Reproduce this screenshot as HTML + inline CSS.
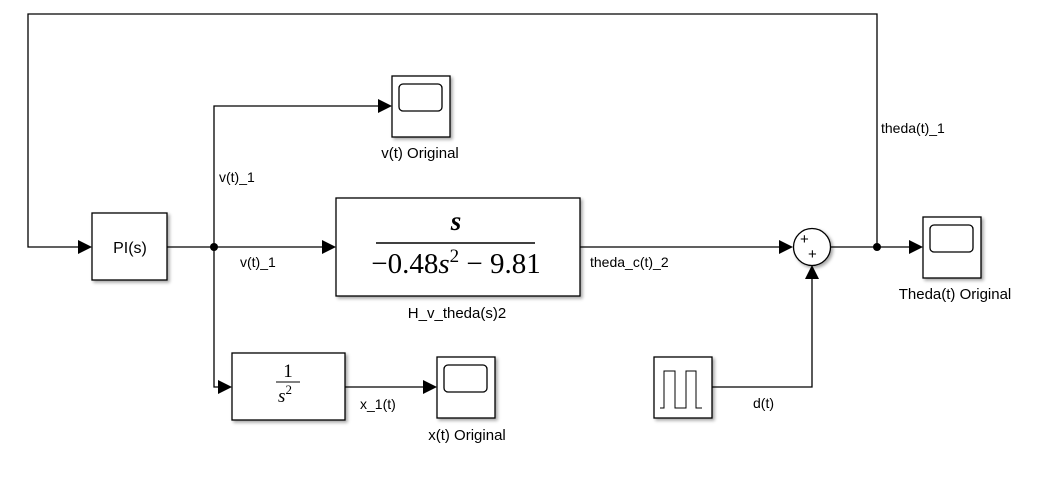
<!DOCTYPE html>
<html><head><meta charset="utf-8"><style>
html,body{margin:0;padding:0;background:#fff;}
svg{display:block;}
text{font-family:"Liberation Sans",Arial,sans-serif;font-size:14px;fill:#000;}
</style></head><body>
<svg width="1047" height="483" viewBox="0 0 1047 483" xmlns="http://www.w3.org/2000/svg">
<defs>
<filter id="sh" x="-10%" y="-10%" width="130%" height="130%"><feDropShadow dx="2" dy="2" stdDeviation="1.5" flood-color="#000" flood-opacity="0.35"/></filter>
</defs>
<g fill="none" stroke="#000" stroke-width="1.3">
<polyline points="877,247 877,14 28,14 28,247 82,247"/>
<line x1="167" y1="247" x2="325" y2="247"/>
<polyline points="380,106 214,106 214,387 222,387"/>
<line x1="580" y1="247" x2="785" y2="247"/>
<line x1="830" y1="247" x2="913" y2="247"/>
<line x1="345" y1="387" x2="427" y2="387"/>
<polyline points="712,387 812,387 812,277"/>
</g>
<g fill="#000">
<circle cx="214" cy="247" r="4"/>
<circle cx="877" cy="247" r="4"/>
<polygon points="78,240 92,247 78,254"/>
<polygon points="322,240 336,247 322,254"/>
<polygon points="378,99 392,106 378,113"/>
<polygon points="218,380 232,387 218,394"/>
<polygon points="423,380 437,387 423,394"/>
<polygon points="779,240 793,247 779,254"/>
<polygon points="909,240 923,247 909,254"/>
<polygon points="805,279 812,265 819,279"/>
</g>
<g fill="#fff" stroke="#000" stroke-width="1.3" filter="url(#sh)">
<rect x="92" y="213" width="75" height="67"/>
<rect x="336" y="198" width="244" height="98"/>
<rect x="232" y="353" width="113" height="67"/>
<rect x="392" y="76" width="58" height="61"/>
<rect x="923" y="217" width="58" height="61"/>
<rect x="437" y="357" width="58" height="61"/>
<rect x="654" y="357" width="58" height="61"/>
<circle cx="812" cy="247" r="18.5"/>
</g>
<g fill="none" stroke="#000" stroke-width="1.3">
<rect x="399" y="84" width="43" height="27" rx="4"/>
<rect x="930" y="225" width="43" height="27" rx="4"/>
<rect x="444" y="365" width="43" height="27" rx="4"/>
<polyline points="660,408 664,408 664,371 675,371 675,408 686,408 686,371 696,371 696,408 702,408" stroke-width="1"/>
<line x1="376" y1="243" x2="535" y2="243" stroke-width="1.6"/>
<line x1="276" y1="382" x2="300" y2="382" stroke-width="1"/>
</g>
<text x="130" y="253" text-anchor="middle" style="font-size:16px">PI(s)</text>
<text x="420" y="158" text-anchor="middle" style="font-size:15px">v(t) Original</text>
<text x="219" y="182">v(t)_1</text>
<text x="240" y="267">v(t)_1</text>
<text x="457" y="318" text-anchor="middle" style="font-size:15px">H_v_theda(s)2</text>
<text x="590" y="267">theda_c(t)_2</text>
<text x="881" y="133">theda(t)_1</text>
<text x="955" y="299" text-anchor="middle" style="font-size:15px">Theda(t) Original</text>
<text x="753" y="408">d(t)</text>
<text x="360" y="409">x_1(t)</text>
<text x="467" y="440" text-anchor="middle" style="font-size:15px">x(t) Original</text>
<text x="800" y="244" style="font-size:15px">+</text>
<text x="808" y="259" style="font-size:15px">+</text>
<text x="456" y="230" text-anchor="middle" style="font-size:27px;font-style:italic;font-weight:bold;font-family:'Liberation Serif',serif">s</text>
<text x="456" y="273" text-anchor="middle" style="font-size:29px;font-family:'Liberation Serif',serif">−0.48<tspan font-style="italic">s</tspan><tspan dy="-11" style="font-size:19px">2</tspan><tspan dy="11"> − 9.81</tspan></text>
<text x="288" y="377" text-anchor="middle" style="font-size:19px;font-family:'Liberation Serif',serif">1</text>
<text x="285" y="402" text-anchor="middle" style="font-size:19px;font-family:'Liberation Serif',serif"><tspan font-style="italic">s</tspan><tspan dy="-8" style="font-size:13px">2</tspan></text>
</svg>
</body></html>
